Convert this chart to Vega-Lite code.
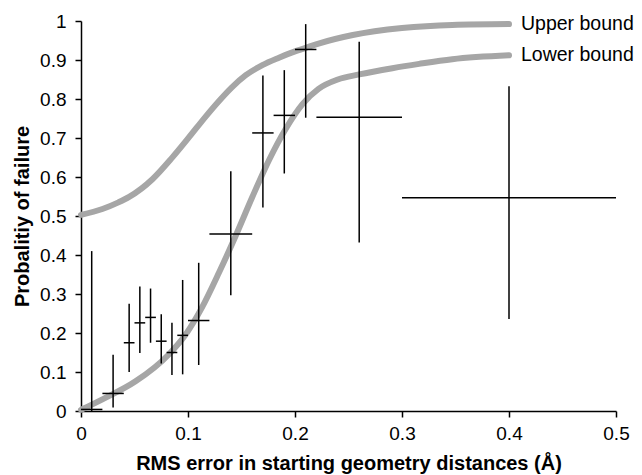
{
  "$schema": "https://vega.github.io/schema/vega-lite/v6.json",
  "width": 535,
  "height": 390,
  "autosize": {"type": "none"},
  "padding": {"left": 81, "top": 21, "right": 26, "bottom": 64},
  "background": "white",
  "config": {
    "view": {"stroke": null},
    "font": "Liberation Sans",
    "axis": {
      "grid": false,
      "domainColor": "black",
      "domainWidth": 1.5,
      "tickColor": "black",
      "tickWidth": 1.5,
      "tickSize": 6,
      "labelColor": "black",
      "labelFont": "Liberation Sans",
      "labelFontSize": 19,
      "labelOverlap": false,
      "labelFlush": false,
      "titleFont": "Liberation Sans",
      "titleFontSize": 20,
      "titleFontWeight": "bold",
      "titleColor": "black",
      "format": ".1~f"
    },
    "axisX": {"labelPadding": 7, "titlePadding": 10, "tickCount": 12, "tickMinStep": 0.1},
    "axisY": {"labelPadding": 9, "titlePadding": 7, "tickCount": 22, "tickMinStep": 0.1}
  },
  "datasets": {
    "curves": [
      {"series": "Upper bound", "x": 0, "y": 0.503},
      {"series": "Upper bound", "x": 0.02, "y": 0.518},
      {"series": "Upper bound", "x": 0.035, "y": 0.535},
      {"series": "Upper bound", "x": 0.045, "y": 0.549},
      {"series": "Upper bound", "x": 0.067, "y": 0.595},
      {"series": "Upper bound", "x": 0.085, "y": 0.649},
      {"series": "Upper bound", "x": 0.101, "y": 0.702},
      {"series": "Upper bound", "x": 0.1165, "y": 0.755},
      {"series": "Upper bound", "x": 0.129, "y": 0.795},
      {"series": "Upper bound", "x": 0.141, "y": 0.83},
      {"series": "Upper bound", "x": 0.154, "y": 0.861},
      {"series": "Upper bound", "x": 0.1695, "y": 0.887},
      {"series": "Upper bound", "x": 0.185, "y": 0.906},
      {"series": "Upper bound", "x": 0.2, "y": 0.922},
      {"series": "Upper bound", "x": 0.213, "y": 0.934},
      {"series": "Upper bound", "x": 0.222, "y": 0.942},
      {"series": "Upper bound", "x": 0.254, "y": 0.964},
      {"series": "Upper bound", "x": 0.3, "y": 0.982},
      {"series": "Upper bound", "x": 0.347, "y": 0.99},
      {"series": "Upper bound", "x": 0.4, "y": 0.992},
      {"series": "Lower bound", "x": 0, "y": 0.003},
      {"series": "Lower bound", "x": 0.02, "y": 0.03},
      {"series": "Lower bound", "x": 0.051, "y": 0.076},
      {"series": "Lower bound", "x": 0.082, "y": 0.145},
      {"series": "Lower bound", "x": 0.098, "y": 0.197},
      {"series": "Lower bound", "x": 0.113, "y": 0.265},
      {"series": "Lower bound", "x": 0.129, "y": 0.355},
      {"series": "Lower bound", "x": 0.145, "y": 0.452},
      {"series": "Lower bound", "x": 0.16, "y": 0.548},
      {"series": "Lower bound", "x": 0.176, "y": 0.645},
      {"series": "Lower bound", "x": 0.191, "y": 0.722},
      {"series": "Lower bound", "x": 0.207, "y": 0.787},
      {"series": "Lower bound", "x": 0.222, "y": 0.826},
      {"series": "Lower bound", "x": 0.24, "y": 0.85},
      {"series": "Lower bound", "x": 0.26, "y": 0.863},
      {"series": "Lower bound", "x": 0.291, "y": 0.879},
      {"series": "Lower bound", "x": 0.316, "y": 0.89},
      {"series": "Lower bound", "x": 0.347, "y": 0.902},
      {"series": "Lower bound", "x": 0.4, "y": 0.912}
    ],
    "points": [
      {"x": 0.01, "xlo": 0.0, "xhi": 0.02, "y": 0.004, "ylo": 0.0, "yhi": 0.41},
      {"x": 0.03, "xlo": 0.02, "xhi": 0.04, "y": 0.045, "ylo": 0.009, "yhi": 0.144},
      {"x": 0.045, "xlo": 0.04, "xhi": 0.05, "y": 0.175, "ylo": 0.1, "yhi": 0.275},
      {"x": 0.055, "xlo": 0.05, "xhi": 0.06, "y": 0.226, "ylo": 0.149, "yhi": 0.319},
      {"x": 0.065, "xlo": 0.06, "xhi": 0.07, "y": 0.24, "ylo": 0.175, "yhi": 0.314},
      {"x": 0.075, "xlo": 0.07, "xhi": 0.08, "y": 0.179, "ylo": 0.122, "yhi": 0.248},
      {"x": 0.085, "xlo": 0.08, "xhi": 0.09, "y": 0.15, "ylo": 0.092, "yhi": 0.226},
      {"x": 0.095, "xlo": 0.09, "xhi": 0.1, "y": 0.194, "ylo": 0.094, "yhi": 0.336},
      {"x": 0.11, "xlo": 0.1, "xhi": 0.12, "y": 0.232, "ylo": 0.118, "yhi": 0.38},
      {"x": 0.14, "xlo": 0.12, "xhi": 0.16, "y": 0.454, "ylo": 0.297, "yhi": 0.615},
      {"x": 0.17, "xlo": 0.16, "xhi": 0.18, "y": 0.713, "ylo": 0.522, "yhi": 0.86},
      {"x": 0.19, "xlo": 0.18, "xhi": 0.2, "y": 0.758, "ylo": 0.609, "yhi": 0.874},
      {"x": 0.21, "xlo": 0.2, "xhi": 0.22, "y": 0.927, "ylo": 0.752, "yhi": 0.992},
      {"x": 0.26, "xlo": 0.22, "xhi": 0.3, "y": 0.753, "ylo": 0.432, "yhi": 0.947},
      {"x": 0.4, "xlo": 0.3, "xhi": 0.5, "y": 0.547, "ylo": 0.236, "yhi": 0.833}
    ],
    "labels": [
      {"series": "Upper bound", "x": 0.4, "y": 0.992},
      {"series": "Lower bound", "x": 0.4, "y": 0.912}
    ]
  },
  "layer": [
    {
      "data": {"name": "curves"},
      "mark": {"type": "line", "color": "#a6a6a6", "strokeWidth": 6, "strokeCap": "round", "strokeJoin": "round", "interpolate": "monotone"},
      "encoding": {
        "x": {
          "field": "x", "type": "quantitative",
          "scale": {"domain": [0, 0.5], "nice": false, "zero": false},
          "title": "RMS error in starting geometry distances (Å)"
        },
        "y": {
          "field": "y", "type": "quantitative",
          "scale": {"domain": [0, 1], "nice": false},
          "title": "Probalitiy of failure"
        },
        "detail": {"field": "series"}
      }
    },
    {
      "data": {"name": "points"},
      "mark": {"type": "rule", "color": "black", "strokeWidth": 1.5},
      "encoding": {
        "x": {"field": "x", "type": "quantitative"},
        "y": {"field": "ylo", "type": "quantitative"},
        "y2": {"field": "yhi"}
      }
    },
    {
      "data": {"name": "points"},
      "mark": {"type": "rule", "color": "black", "strokeWidth": 1.5},
      "encoding": {
        "x": {"field": "xlo", "type": "quantitative"},
        "x2": {"field": "xhi"},
        "y": {"field": "y", "type": "quantitative"}
      }
    },
    {
      "data": {"name": "labels"},
      "mark": {"type": "text", "align": "left", "baseline": "middle", "dx": 12, "fontSize": 19.5, "font": "Liberation Sans", "color": "black"},
      "encoding": {
        "x": {"field": "x", "type": "quantitative"},
        "y": {"field": "y", "type": "quantitative"},
        "text": {"field": "series"}
      }
    }
  ]
}
